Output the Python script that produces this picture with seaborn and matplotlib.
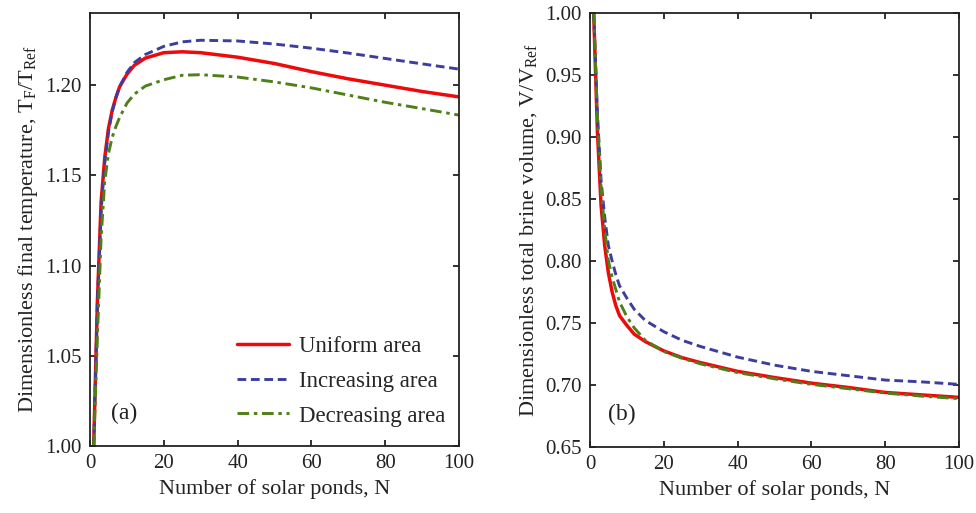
import numpy as np
import pandas as pd
import matplotlib
matplotlib.use("Agg")
import matplotlib.pyplot as plt
import seaborn as sns

# Number of solar ponds
N = [1, 2, 3, 4, 5, 6, 7, 8, 10, 12, 15, 20, 25, 30, 40, 50, 60, 70, 80, 90, 100]

# (a) dimensionless final temperature T_F / T_Ref
temp_uniform = [1.000, 1.080, 1.135, 1.160, 1.176, 1.186, 1.193, 1.199, 1.206, 1.211,
                1.215, 1.218, 1.2185, 1.218, 1.2155, 1.212, 1.2075, 1.2035, 1.200, 1.1965, 1.1935]
temp_increasing = [1.000, 1.080, 1.130, 1.157, 1.174, 1.185, 1.193, 1.199, 1.207, 1.2125,
                   1.217, 1.2215, 1.224, 1.2249, 1.2245, 1.2228, 1.2205, 1.2178, 1.2148, 1.2118, 1.2089]
temp_decreasing = [1.000, 1.060, 1.115, 1.147, 1.162, 1.171, 1.177, 1.182, 1.190, 1.195,
                   1.1995, 1.203, 1.2055, 1.2058, 1.2045, 1.2018, 1.1985, 1.1945, 1.1905, 1.187, 1.1834]

# (b) dimensionless total brine volume V / V_Ref
vol_uniform = [1.000, 0.905, 0.845, 0.812, 0.790, 0.775, 0.764, 0.756, 0.748, 0.741,
               0.735, 0.7275, 0.722, 0.718, 0.711, 0.706, 0.7015, 0.698, 0.694, 0.692, 0.690]
vol_increasing = [1.000, 0.920, 0.865, 0.835, 0.812, 0.800, 0.789, 0.780, 0.770, 0.761,
                  0.752, 0.743, 0.736, 0.731, 0.7225, 0.716, 0.711, 0.7075, 0.704, 0.7025, 0.7005]
vol_decreasing = [1.000, 0.915, 0.860, 0.825, 0.800, 0.787, 0.777, 0.767, 0.755, 0.746,
                  0.736, 0.727, 0.7215, 0.717, 0.710, 0.705, 0.7005, 0.697, 0.6935, 0.691, 0.689]

series_names = ["Uniform area", "Increasing area", "Decreasing area"]
colors = ["#ee0a0a", "#3d3d9e", "#4e7f18"]
dash_styles = ["-", (0, (3.0, 1.6)), (0, (4.0, 1.6, 1.2, 1.6))]
widths = [2.5, 2.1, 2.1]

sns.set_theme(style="ticks")
plt.rcParams["font.family"] = ["Liberation Serif", "DejaVu Serif"]
plt.rcParams["mathtext.fontset"] = "custom"
plt.rcParams["mathtext.rm"] = "Liberation Serif"
plt.rcParams["mathtext.it"] = "Liberation Serif:italic"
plt.rcParams["axes.edgecolor"] = "#222222"

fig = plt.figure(figsize=(9.76, 5.13), dpi=100)
ax_a = fig.add_axes([90 / 976, 67 / 513, 369 / 976, 433 / 513])
ax_b = fig.add_axes([590 / 976, 66 / 513, 369 / 976, 434 / 513])

temp_df = pd.DataFrame({"N": N * 3,
                        "value": temp_uniform + temp_increasing + temp_decreasing,
                        "case": sum([[s] * len(N) for s in series_names], [])})
vol_df = pd.DataFrame({"N": N * 3,
                       "value": vol_uniform + vol_increasing + vol_decreasing,
                       "case": sum([[s] * len(N) for s in series_names], [])})

for ax, df in ((ax_a, temp_df), (ax_b, vol_df)):
    for name, col, ls, lw in zip(series_names, colors, dash_styles, widths):
        sub = df[df["case"] == name]
        sns.lineplot(data=sub, x="N", y="value", ax=ax, color=col, linestyle=ls,
                     linewidth=lw, label=name, legend=False)

for ax in (ax_a, ax_b):
    ax.set_xlim(0, 100)
    ax.set_xticks([0, 20, 40, 60, 80, 100])
    ax.tick_params(direction="in", length=4, width=1.3, top=True, right=True,
                   labelsize=15, colors="#222222", labelcolor="#222222", pad=6)
    for sp in ax.spines.values():
        sp.set_visible(True)
        sp.set_linewidth(1.3)
    ax.set_xlabel("Number of solar ponds, N", fontsize=16, color="#222222")

ax_a.set_ylim(1.0, 1.24)
ax_a.set_yticks([1.00, 1.05, 1.10, 1.15, 1.20])
ax_a.set_yticklabels(["1.00", "1.05", "1.10", "1.15", "1.20"])
ax_a.set_ylabel(r"Dimensionless final temperature, T$_\mathrm{F}$/T$_\mathrm{Ref}$",
                fontsize=16, color="#222222")

ax_b.set_ylim(0.65, 1.0)
ax_b.set_yticks(np.arange(0.65, 1.001, 0.05))
ax_b.set_yticklabels([f"{v:.2f}" for v in np.arange(0.65, 1.001, 0.05)])
ax_b.set_ylabel(r"Dimensionless total brine volume, V/V$_\mathrm{Ref}$",
                fontsize=16, color="#222222")

handles, labels = ax_a.get_legend_handles_labels()
ax_a.legend(handles, labels, loc="lower right", bbox_to_anchor=(0.962, 0.045),
            frameon=False, fontsize=16.5, handlelength=2.3, handletextpad=0.4,
            labelspacing=0.6, borderpad=0, borderaxespad=0)

ax_a.text(0.058, 0.076, "(a)", transform=ax_a.transAxes, fontsize=17,
          va="center", ha="left", color="#222222")
ax_b.text(0.048, 0.076, "(b)", transform=ax_b.transAxes, fontsize=17,
          va="center", ha="left", color="#222222")

fig.savefig("out.png", dpi=100)
